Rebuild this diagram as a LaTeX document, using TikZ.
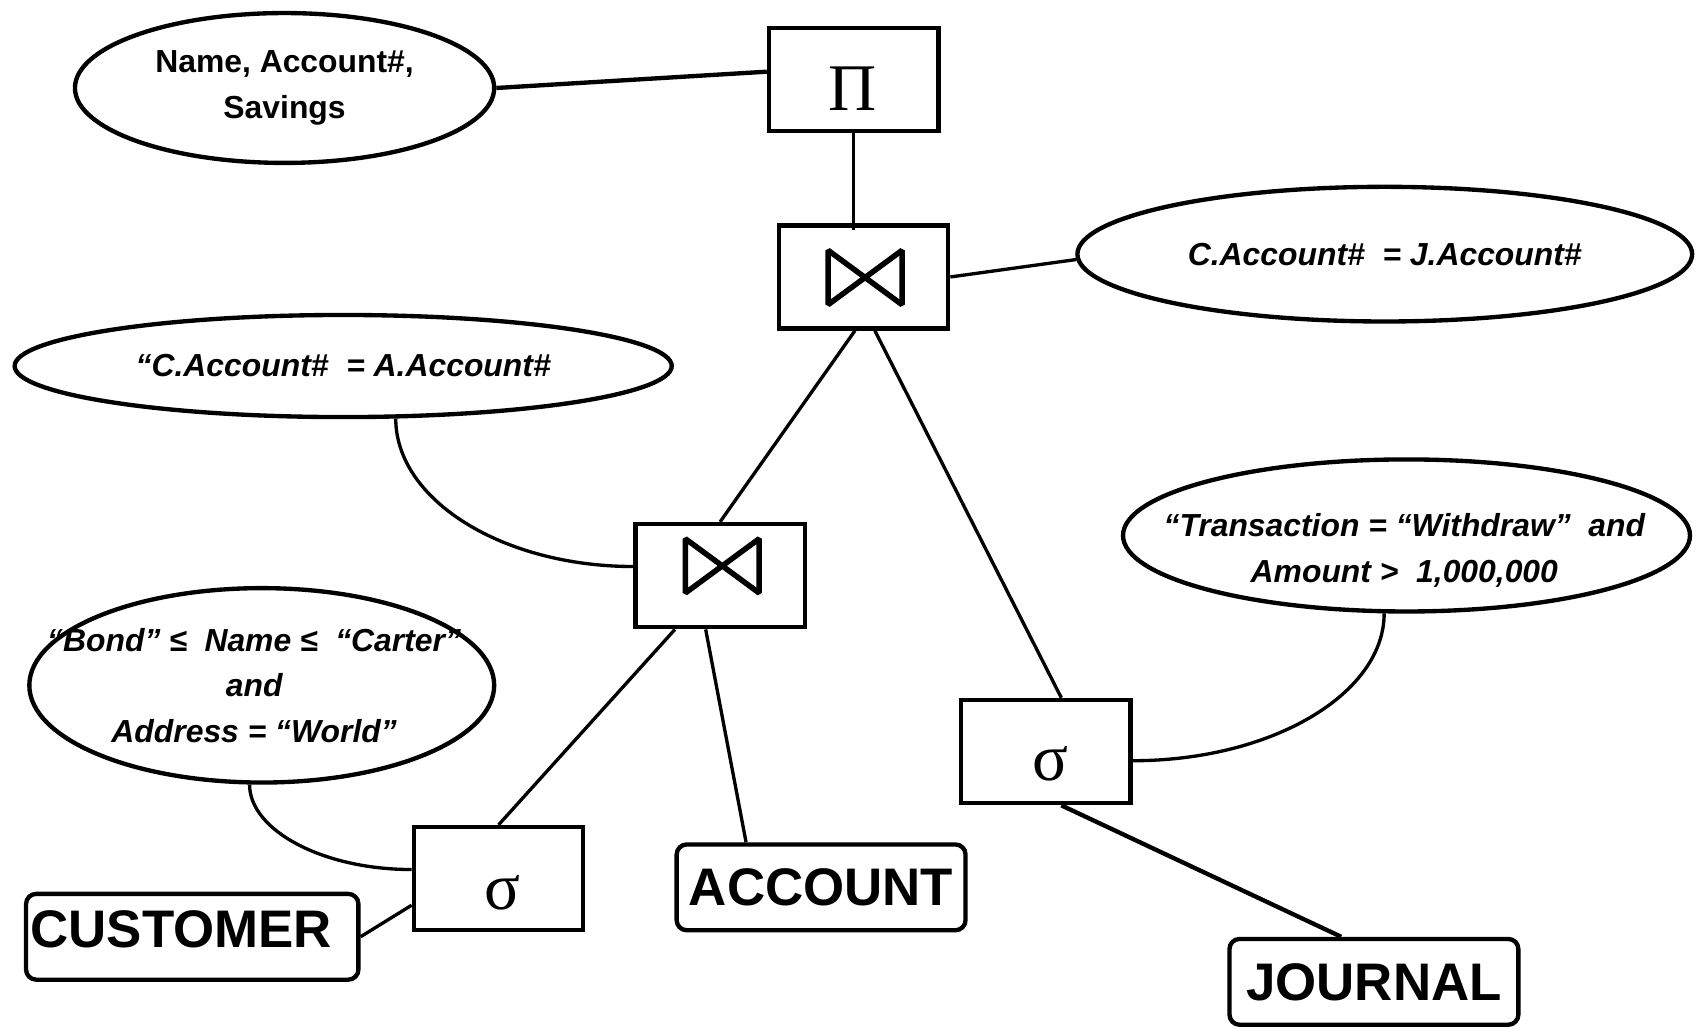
\documentclass[tikz,border=0pt]{standalone}
\usepackage{fontspec}
\setmainfont{Liberation Sans}
\newfontfamily\opfont{Liberation Serif}
\usetikzlibrary{shapes.geometric}
\newlength\pxu
\setlength\pxu{0.75pt}

\begin{document}
\begin{tikzpicture}[x=0.75pt,y=-0.75pt,
  cond/.style={ellipse, draw, line width=3pt, inner sep=0pt, align=center,
    font=\fontsize{22}{31.5}\selectfont\bfseries},
  condit/.style={cond, font=\fontsize{22}{31.5}\selectfont\bfseries\itshape},
  condtext/.style={inner sep=0pt, align=center,
    font=\fontsize{22}{31.5}\selectfont\bfseries\itshape},
  opbox/.style={rectangle, draw, line width=3pt, minimum width=156\pxu,
    minimum height=95\pxu, inner sep=0pt},
  relbox/.style={rectangle, draw, line width=3pt, rounded corners=7pt,
    inner sep=0pt, minimum height=79\pxu,
    font=\fontsize{36.5}{40}\selectfont\bfseries},
  reltext/.style={inner sep=0pt, font=\fontsize{36.5}{40}\selectfont\bfseries},
  opsym/.style={inner sep=0pt, font=\fontsize{46}{46}\selectfont\opfont},
  bowtie/.style={line width=3.8pt, line join=miter, miter limit=2},
  link/.style={line width=2.3pt},
  linkthick/.style={line width=3pt},
]
\fill[white] (0,0) rectangle (1568,947);
\useasboundingbox (0,0) rectangle (1568,947);

% operator boxes
\node[opbox] (pi) at (786,73) {};
\node[opsym] (pis) at (785,82) {Π};
\node[opbox] (j1) at (795,255) {};
\node[opbox] (j2) at (663,530) {};
\node[opbox] (sr) at (963,692) {};
\node[opsym] (srs) at (967,703) {σ};
\node[opbox] (sl) at (459,809) {};
\node[opsym] (sls) at (463,822) {σ};

% join symbols
\draw[bowtie] (796.5,255.5) ++(-34,-25) -- ++(68,50) -- ++(0,-50) -- ++(-68,50) -- cycle;
\draw[bowtie] (665,521) ++(-34,-25) -- ++(68,50) -- ++(0,-50) -- ++(-68,50) -- cycle;

% conditions
\node[cond, minimum width=386\pxu, minimum height=138\pxu] (e1) at (262,81)
  {Name, Account\#,\\Savings};
\node[condit, minimum width=566\pxu, minimum height=124\pxu] (e2) at (1275,234)
  {C.Account\#\ \ = J.Account\#};
\node[condit, minimum width=605\pxu, minimum height=94\pxu] (e3) at (316,337)
  {“C.Account\#\ \ = A.Account\#};
\node[condit, minimum width=522\pxu, minimum height=140\pxu] (e4) at (1295,493) {};
\node[condtext] (e4t) at (1293,507)
  {“Transaction = “Withdraw”\ \ and\\Amount >\ \ 1,000,000};
\node[condit, minimum width=428\pxu, minimum height=179\pxu] (e5) at (241,631) {};
\node[condtext] (e5t) at (234,631)
  {“Bond” ≤\ \ Name ≤\ \ “Carter”\\and\\Address = “World”};

% relations
\node[relbox, minimum width=306\pxu] (customer) at (177,862.5) {};
\node[reltext] (customert) at (167,856) {CUSTOMER};
\node[relbox, minimum width=266\pxu] (account) at (756,817) {ACCOUNT};
\node[relbox, minimum width=266\pxu] (journal) at (1265,904) {JOURNAL};

% connectors
\draw[linkthick] (e1.east) -- (pi.175);
\draw[link] (pi.south) -- ([yshift=-5pt]pi.south |- j1.north);
\draw[link] (j1.east) -- (e2.181);
\draw[link] (j1.261) -- (j2.north);
\draw[link] (j1.282) -- (sr.74);
\draw[link] (e3.-45) .. controls +(0,75) and +(-120,0) .. (j2.174);
\draw[link] (e4.254) .. controls +(0,74) and +(128,0) .. (sr.-6);
\draw[linkthick] (sr.286) -- (journal.126);
\draw[link] (j2.230) -- (sl.north);
\draw[link] (j2.255) -- (account.149);
\draw[link] (e5.263) .. controls +(0,42) and +(-82,0) .. (sl.174);
\draw[link] (customer.east) -- (sl.197);
\end{tikzpicture}
\end{document}
